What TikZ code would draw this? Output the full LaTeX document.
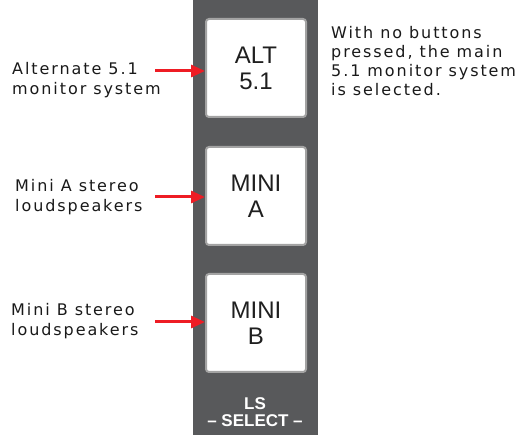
\documentclass[tikz,border=0pt]{standalone}
\usepackage{fontspec}
\setmainfont{DejaVu Sans}[LetterSpace=12]
\newfontfamily\arialfont{Liberation Sans}
\usetikzlibrary{arrows.meta}
\definecolor{panel}{HTML}{58595B}
\definecolor{btnedge}{HTML}{A3A3A3}
\definecolor{arrowred}{HTML}{EE1C24}
\tikzset{
  btn/.style={draw=btnedge, line width=2pt, fill=white, rounded corners=3pt, minimum width=100pt, minimum height=98pt, inner sep=0pt, align=center, font=\arialfont\fontsize{24}{26}\selectfont, text=black!88},
  lbl/.style={anchor=base west, align=left, font=\fontsize{16}{20}\selectfont, text=black!90, inner sep=0pt},
  arr/.style={-{Triangle[length=14pt,width=12pt]}, draw=arrowred, line width=3pt}
}
\begin{document}
\begin{tikzpicture}[x=1pt,y=-1pt]
\useasboundingbox (0,0) rectangle (523,435);
\fill[panel] (193,0) rectangle (318,435);
\node[btn] (b1) at (256,68) {ALT\\5.1};
\node[btn] (b2) at (256,196) {MINI\\A};
\node[btn] (b3) at (256,323) {MINI\\B};
\node[lbl] (t1) at (12,95) {Alternate 5.1\\monitor system};
\node[lbl] (t2) at (15,212) {Mini A stereo\\loudspeakers};
\node[lbl] (t3) at (11,336) {Mini B stereo\\loudspeakers};
\coordinate (a1) at (155,71);
\coordinate (a2) at (155,197);
\coordinate (a3) at (155,322);
\draw[arr] (a1) -- (a1 -| b1.west);
\draw[arr] (a2) -- (a2 -| b2.west);
\draw[arr] (a3) -- (a3 -| b3.west);
\node[lbl, font=\fontsize{16}{19.2}\selectfont] (note) at (331,96) {With no buttons\\pressed, the main\\5.1 monitor system\\is selected.};
\node[align=center, text=white, font=\arialfont\bfseries\fontsize{17}{17}\selectfont, inner sep=0pt, anchor=base] (ls) at (255,427) {LS\\– SELECT –};
\end{tikzpicture}
\end{document}
